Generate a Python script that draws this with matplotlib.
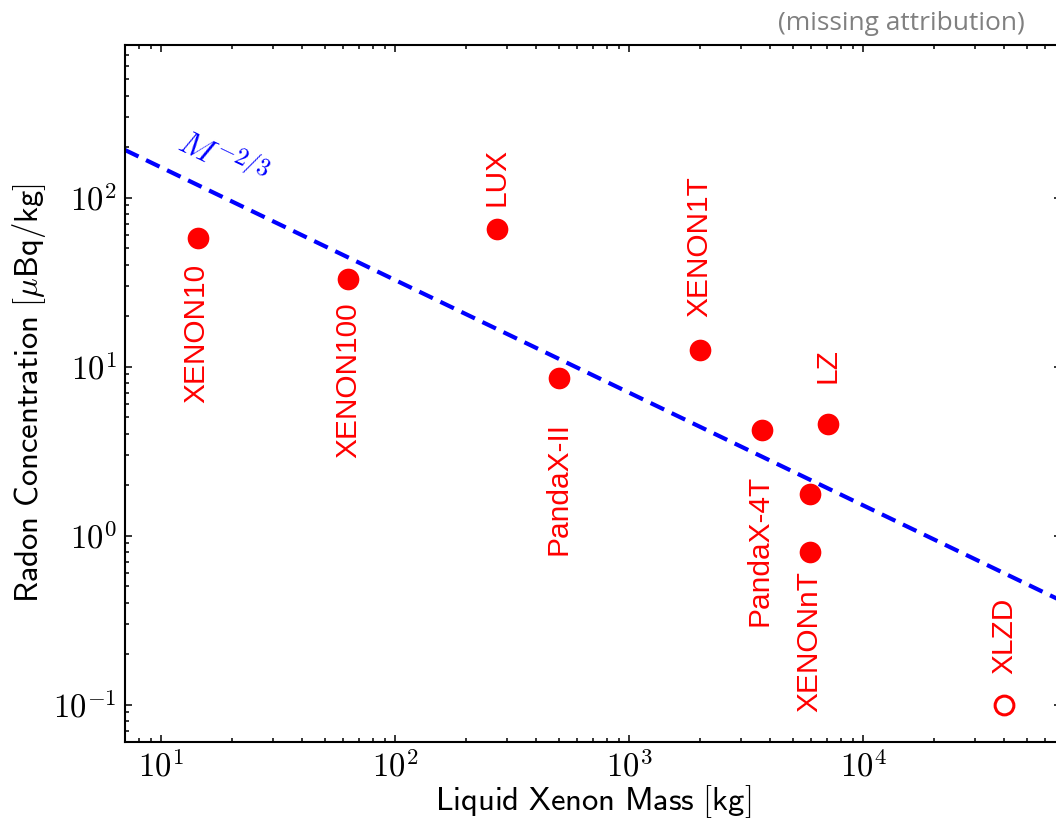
import numpy as np
import matplotlib
matplotlib.use("Agg")
import matplotlib.pyplot as plt
from matplotlib.ticker import FuncFormatter, LogLocator

plt.rcParams['mathtext.fontset'] = 'cm'

# ---- data ----
experiments = ["XENON10", "XENON100", "LUX", "PandaX-II", "XENON1T",
               "PandaX-4T", "LZ", "XENONnT", "XENONnT", "XLZD"]
mass_kg = [14.3, 63, 271, 500, 2000, 3700, 7050, 5900, 5900, 40000]
radon_uBq_kg = [58, 33, 65.6, 8.6, 12.5, 4.2, 4.55, 1.77, 0.80, 0.10]
projected = [False, False, False, False, False, False, False, False, False, True]
show_label = [True, True, True, True, True, True, True, False, True, True]
# label offsets in points (dx, dy)
label_dx = [-1, 0, 0, 0, 0, -2, 0, 0, 0, 0]
label_dy = [-19, -17, 16, -32, 24, -32, 30, 0, -14, 22]

scaling_norm = 700.0
scaling_exp = -2.0 / 3.0
line_mass = [7, 7e4]

xlim = (7, 7e4)
ylim = (0.06, 800)

fig = plt.figure(figsize=(10.56, 8.21), dpi=100)
ax = fig.add_axes([125 / 1056, 79 / 821, 936 / 1056, 697 / 821])
ax.set_xscale('log')
ax.set_yscale('log')
ax.set_xlim(*xlim)
ax.set_ylim(*ylim)

lm = np.array(line_mass, dtype=float)
ax.plot(lm, scaling_norm * lm ** scaling_exp, ls='--', color='#0000ff', lw=3.0,
        dashes=(3.6, 2.0), zorder=2)

for name, m, r, proj, show, dx, dy in zip(experiments, mass_kg, radon_uBq_kg,
                                           projected, show_label, label_dx, label_dy):
    if proj:
        ax.plot([m], [r], 'o', mfc='none', mec='#ff0000', mew=2.2, ms=13.5, zorder=3)
    else:
        ax.plot([m], [r], 'o', color='#ff0000', mew=0, ms=15.6, zorder=3)
    if show:
        ax.annotate(name, (m, r), xytext=(dx, dy), textcoords='offset points',
                    rotation=90, ha='center', va='bottom' if dy > 0 else 'top',
                    color='#ff0000', fontsize=21.5, family='Liberation Sans')

ax.text(18.3, 168, r'$M^{-2/3}$', color='#0000ff', fontsize=25,
        rotation=-25.7, rotation_mode='anchor', ha='center', va='center')

fmt = FuncFormatter(lambda v, p: r'$10^{%d}$' % int(round(np.log10(v))))
ax.xaxis.set_major_formatter(fmt)
ax.yaxis.set_major_formatter(fmt)
ax.xaxis.set_major_locator(LogLocator(base=10, numticks=20))
ax.yaxis.set_major_locator(LogLocator(base=10, numticks=20))
ax.xaxis.set_minor_locator(LogLocator(base=10, subs=np.arange(2, 10), numticks=40))
ax.yaxis.set_minor_locator(LogLocator(base=10, subs=np.arange(2, 10), numticks=40))

ax.tick_params(which='both', direction='in', top=True, right=True, width=1.1)
ax.tick_params(which='major', length=5, labelsize=23.5, pad=6)
ax.tick_params(which='minor', length=3.2)
for s in ax.spines.values():
    s.set_linewidth(1.5)

ax.set_xlabel(r'$\mathsf{Liquid\ Xenon\ Mass\ [kg]}$', fontsize=23.5, labelpad=0)
ax.set_ylabel(r'$\mathsf{Radon\ Concentration\ [}\mu\mathsf{Bq/kg]}$', fontsize=23.5, labelpad=4)

fig.text(1025 / 1056, 1 - 23 / 821, '(missing attribution)', ha='right', va='center',
         color='#808080', family='Open Sans', fontsize=19)

fig.savefig('out.png', dpi=100)
